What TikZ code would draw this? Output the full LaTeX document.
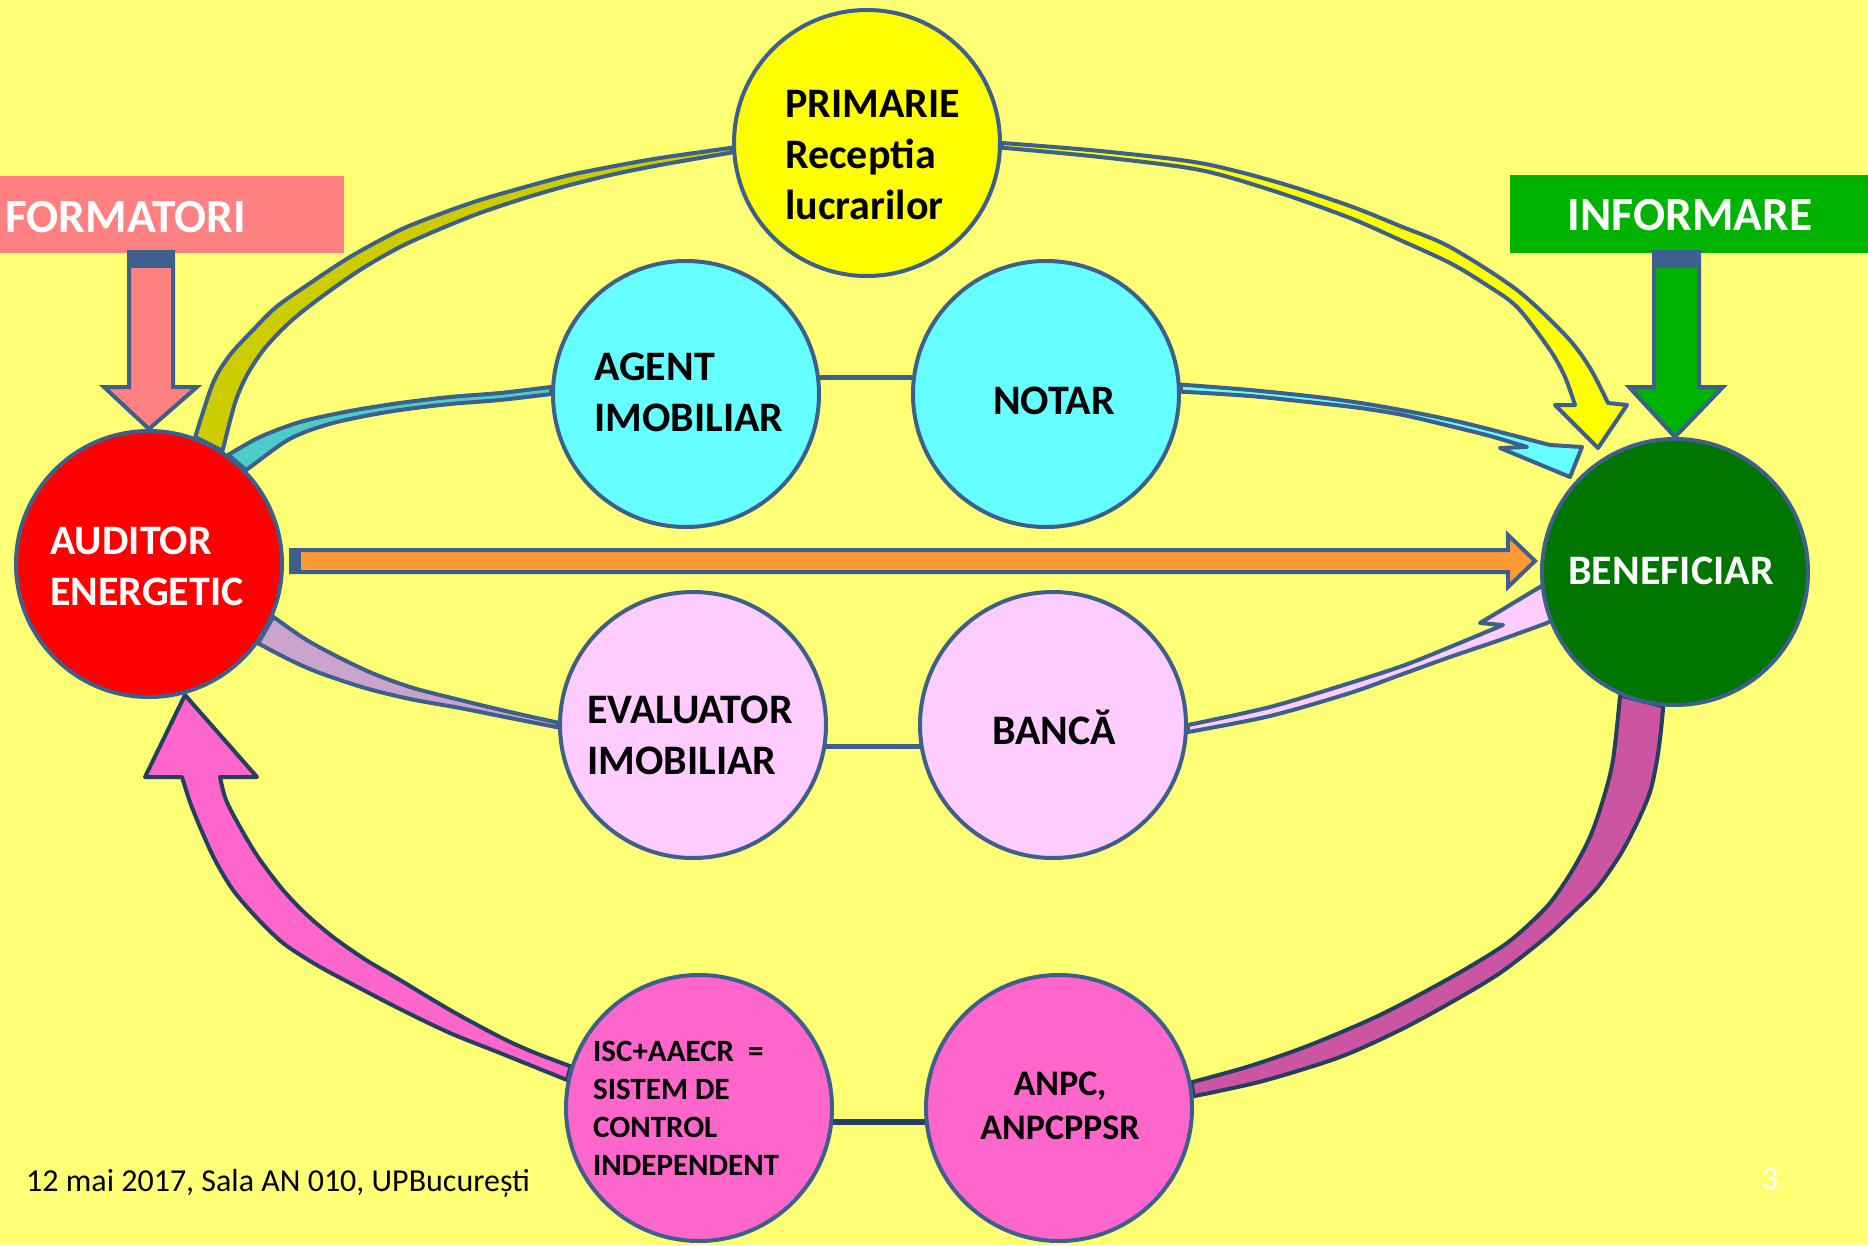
\documentclass[tikz,border=0pt]{standalone}
\usepackage{fontspec}
\setmainfont{Carlito}
\usetikzlibrary{calc}
\pgfdeclarelayer{back}
\pgfdeclarelayer{mid}
\pgfsetlayers{back,mid,main}
\definecolor{cBg}{HTML}{FFFF75}
\definecolor{cOl}{HTML}{3C5F8C}
\definecolor{cDk}{HTML}{243F60}
\definecolor{cForm}{HTML}{FF8080}
\definecolor{cInfo}{HTML}{00B300}
\definecolor{cPrim}{HTML}{FFFF00}
\definecolor{cOlive}{HTML}{CCCC00}
\definecolor{cCyn}{HTML}{66FFFF}
\definecolor{cCynD}{HTML}{4DCCCC}
\definecolor{cPnk}{HTML}{FFCCFF}
\definecolor{cPnkD}{HTML}{CCA3CC}
\definecolor{cMag}{HTML}{FF66CC}
\definecolor{cMagD}{HTML}{CC55A3}
\definecolor{cAud}{HTML}{FF0000}
\definecolor{cBen}{HTML}{007500}
\definecolor{cOrng}{HTML}{FF9933}
\begin{document}
\begin{tikzpicture}[x=1pt,y=-1pt,
  circ/.style={circle, draw=cOl, line width=4pt, minimum size=266pt, inner sep=0pt},
  ribbon/.style={draw=cOl, line width=4pt, line join=round},
  ribbond/.style={draw=cDk, line width=4pt, line join=round},
  blockarrow/.style={draw=cOl, line width=4pt, line join=miter},
  linkline/.style={draw=cOl, line width=5pt},
  lblA/.style={font=\bfseries\fontsize{42}{51}\selectfont, inner sep=0pt, align=left},
  lblB/.style={font=\bfseries\fontsize{36}{44}\selectfont, inner sep=0pt, align=center},
  lblC/.style={font=\bfseries\fontsize{31}{38}\selectfont, inner sep=0pt, align=left},
  lblT/.style={font=\bfseries\fontsize{47.5}{56}\selectfont, inner sep=0pt, text=white},
  foot/.style={font=\fontsize{32}{38}\selectfont, inner sep=0pt}
]
\useasboundingbox (0,0) rectangle (1868,1245);
\begin{pgfonlayer}{back}
  \fill[cBg] (0,0) rectangle (1868,1245);
\end{pgfonlayer}

% circles
\node[circ, fill=cPrim] (prim) at (867,143) {};
\node[circ, fill=cCyn] (ag) at (686,394) {};
\node[circ, fill=cCyn] (no) at (1046,394) {};
\node[circ, fill=cAud] (aud) at (149,564) {};
\node[circ, fill=cBen] (ben) at (1675,572) {};
\node[circ, fill=cPnk] (evl) at (693,725) {};
\node[circ, fill=cPnk] (bnc) at (1053,725) {};
\node[circ, fill=cMag] (isc) at (699,1108) {};
\node[circ, fill=cMag] (anpc) at (1059,1108) {};

% circle texts
\node[lblA, anchor=west] (tprim) at (785,155) {PRIMARIE\\Receptia\\lucrarilor};
\node[lblA, anchor=west] (tag) at (594,392.5) {AGENT\\IMOBILIAR};
\node[lblA, anchor=base] (tno) at (1054,414) {NOTAR};
\node[lblA, anchor=west, text=white] (taud) at (50,566.5) {AUDITOR\\ENERGETIC};
\node[lblA, anchor=base, text=white] (tben) at (1671,584) {BENEFICIAR};
\node[lblA, anchor=west] (tevl) at (587,735) {EVALUATOR\\IMOBILIAR};
\node[lblA, anchor=base] (tbnc) at (1054,744) {BANCĂ};
\node[lblB] (tanpc) at (1060,1106) {ANPC,\\ANPCPPSR};
\node[lblC, anchor=west] (tisc) at (593,1108) {ISC+AAECR\ \ =\\SISTEM DE\\CONTROL\\INDEPENDENT};

\coordinate (otip) at (1535,561);

\begin{pgfonlayer}{mid}
  % yellow arrow: olive back part
  \filldraw[ribbon, fill=cOlive] plot[smooth] coordinates {(aud.70) (213,383) (230,355) (253,330) (275,308) (300,290) (350,257) (400,230) (440,214) (480,200) (525,187) (570,175) (615,166) (660,158) (prim.182)}
    -- plot[smooth] coordinates {(prim.184) (660,165) (615,174) (570,185) (525,198) (480,213) (440,229) (400,247) (360,270) (320,298) (290,322) (265,348) (247,375) (235,403) (aud.57)} -- cycle;
  % yellow arrow: front part with head
  \filldraw[ribbon, fill=cPrim] plot[smooth] coordinates {(prim.0) (1100,151) (1200,163) (1280,183) (1350,206) (1400,226) (1450,247) (1517,290) (1567,337) (1590,368) (1608,403)}
    -- (1627,405) -- (1598,448) -- (1555,405)
    -- plot[smooth] coordinates {(1575,405) (1565,377) (1550,350) (1517,307) (1485,284) (1450,263) (1400,240) (1350,218) (1280,193) (1200,170) (1100,157) (prim.-2)} -- cycle;
  % cyan arrow
  \filldraw[ribbon, fill=cCynD] plot[smooth] coordinates {(aud.54) (260,437) (300,422) (350,411) (400,403) (450,397) (500,393) (ag.177)}
    -- plot[smooth] coordinates {(ag.180) (500,400) (450,404) (400,410) (365,416) (333,423) (305,432) (283,443) (aud.44)} -- cycle;
  \filldraw[ribbon, fill=cCyn] plot[smooth] coordinates {(no.4) (1250,390) (1317,397) (1367,404) (1417,413) (1460,422) (1500,432) (1550,445)}
    -- (1582,447) -- (1570,477) -- (1500,448)
    -- plot[smooth] coordinates {(1527,447) (1490,436) (1450,426) (1403,415) (1360,408) (1317,403) (1250,396) (no.1)} -- cycle;
  % lilac arrow
  \filldraw[ribbon, fill=cPnkD] plot[smooth] coordinates {(aud.-23) (310,642) (365,670) (410,687) (460,700) (510,712) (evl.179)}
    -- plot[smooth] coordinates {(evl.181) (510,718) (460,708) (410,699) (365,688) (320,673) (290,660) (aud.-36)} -- cycle;
  \filldraw[ribbon, fill=cPnk] plot[smooth] coordinates {(bnc.0) (1270,707) (1350,683) (1405,665) (1450,647) (1503,625)}
    -- (1480,623) -- (1545,584) -- (1585,600)
    -- plot[smooth] coordinates {(1547,623) (1500,640) (1450,657) (1400,675) (1350,693) (1270,716) (bnc.-3)} -- cycle;
  % magenta arrow
  \filldraw[ribbond, fill=cMagD] plot[smooth] coordinates {(ben.246) (1613,760) (1603,800) (1590,837) (1572,871) (1550,903) (1525,928) (1500,948) (1450,978) (1380,1015) (1310,1045) (1250,1066) (anpc.11)}
    -- plot[smooth] coordinates {(anpc.5) (1263,1081) (1340,1057) (1400,1030) (1450,1003) (1500,973) (1545,938) (1572,913) (1597,888) (1620,855) (1637,823) (1650,792) (1657,760) (1661,730) (ben.265)} -- cycle;
  \filldraw[ribbond, fill=cMag] plot[smooth] coordinates {(isc.162) (533,1052) (500,1037) (450,1010) (400,980) (366,960) (333,937) (307,915) (283,890) (258,857) (240,827) (226,800) (220,777)}
    -- (257,777) -- (185,695) -- (145,777)
    -- plot[smooth] coordinates {(182,777) (190,802) (200,827) (215,860) (233,890) (257,918) (283,943) (315,964) (350,983) (400,1009) (450,1033) (500,1053) (isc.168)} -- cycle;
  % links between circles
  \draw[linkline] (ag.7) -- (no.173);
  \draw[linkline] (evl.-9) -- (bnc.189);
  \draw[linkline, draw=cDk, line width=6pt] (isc.-6) -- (anpc.186);
\end{pgfonlayer}

% top boxes
\node[fill=cForm, minimum width=344pt, minimum height=77pt, inner sep=0pt, anchor=north west] (form) at (0,176) {};
\node[lblT, anchor=base west] (tform) at (5,232) {FORMATORI};
\node[fill=cInfo, minimum width=358pt, minimum height=78pt, inner sep=0pt, anchor=north west] (info) at (1510,175) {};
\node[lblT, anchor=base] (tinfo) at (1690,230) {INFORMARE};

% block arrows
\draw[blockarrow, fill=cForm] (129,252) -- (173,252) -- (173,387) -- (197,387) -- (aud.north) -- (104,387) -- (129,387) -- cycle;
\fill[cOl] (127,250) rectangle (175,268);
\draw[blockarrow, fill=cInfo] (1654,252) -- (1699,252) -- (1699,387) -- (1723,387) -- (ben.north) -- (1629,387) -- (1654,387) -- cycle;
\fill[cOl] (1652,250) rectangle (1701,268);
\draw[blockarrow, fill=cOrng] (291,550) -- (1508,550) -- (1508,535) -- (otip) -- (1508,587) -- (1508,572) -- (291,572) -- cycle;
\fill[cOl] (289,548) rectangle (301,574);

% footer
\node[foot, anchor=base west] (date) at (26,1191) {12 mai 2017, Sala AN 010, UPBucurești};
\node[foot, anchor=base, text=white, font=\fontsize{33}{40}\selectfont] (pg) at (1770,1189) {3};
\end{tikzpicture}
\end{document}
